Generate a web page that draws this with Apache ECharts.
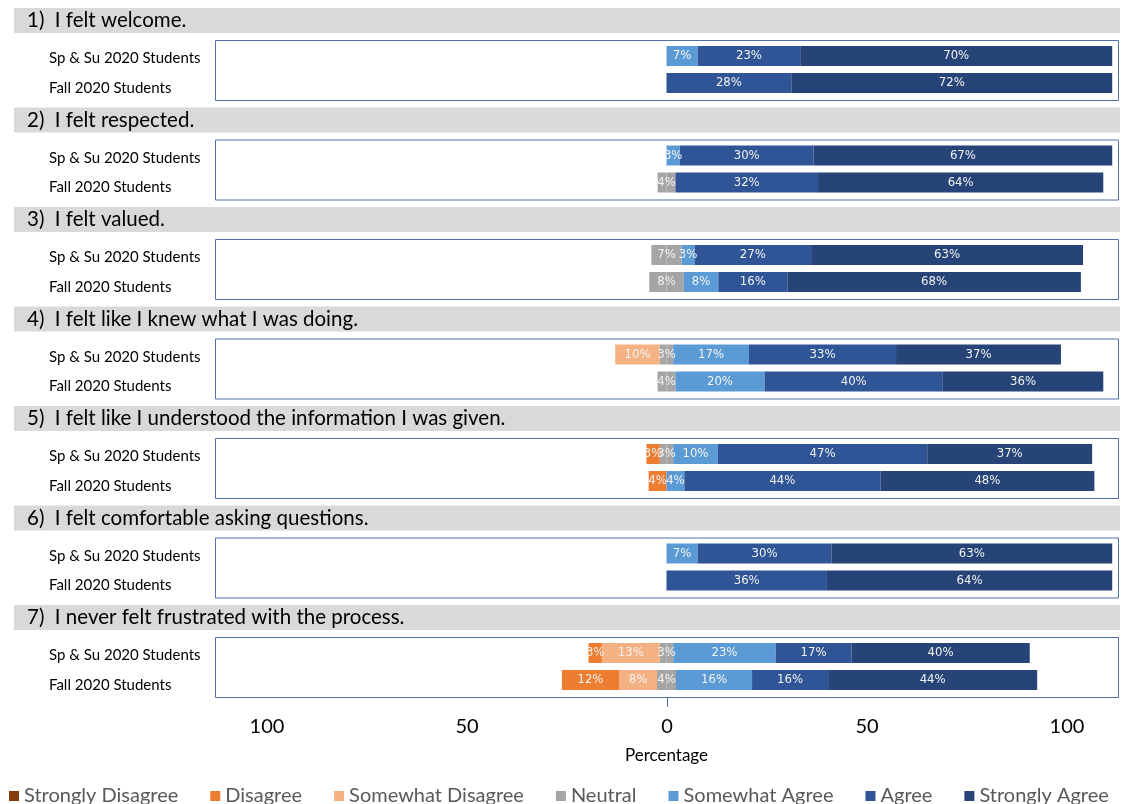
<!DOCTYPE html>
<html>
<head>
<meta charset="utf-8">
<script src="https://cdn.jsdelivr.net/npm/echarts@6/dist/echarts.min.js"></script>
<style>
  html, body { margin: 0; padding: 0; background: #fff; }
  #chart { width: 1126px; height: 804px; }
</style>
</head>
<body>
<div id="chart"></div>
<script>
// survey items
const questions = [
  "1)  I felt welcome.",
  "2)  I felt respected.",
  "3)  I felt valued.",
  "4)  I felt like I knew what I was doing.",
  "5)  I felt like I understood the information I was given.",
  "6)  I felt comfortable asking questions.",
  "7)  I never felt frustrated with the process."
];
const groups = ["Sp & Su 2020 Students", "Fall 2020 Students"];
const levels = ["Strongly Disagree", "Disagree", "Somewhat Disagree", "Neutral",
  "Somewhat Agree", "Agree", "Strongly Agree"];

// percentages per question, in the order of levels
const spSu = [
  [0, 0, 0, 0, 7, 23, 70],
  [0, 0, 0, 0, 3, 30, 67],
  [0, 0, 0, 7, 3, 27, 63],
  [0, 0, 10, 3, 17, 33, 37],
  [0, 3, 0, 3, 10, 47, 37],
  [0, 0, 0, 0, 7, 30, 63],
  [0, 3, 13, 3, 23, 17, 40]
];
const fall = [
  [0, 0, 0, 0, 0, 28, 72],
  [0, 0, 0, 4, 0, 32, 64],
  [0, 0, 0, 8, 8, 16, 68],
  [0, 0, 0, 4, 20, 40, 36],
  [0, 4, 0, 0, 4, 44, 48],
  [0, 0, 0, 0, 0, 36, 64],
  [0, 12, 8, 4, 16, 16, 44]
];
const tickLabels = [-100, -50, 0, 50, 100];

// each row in the original was scaled on its own (half range of the x axis)
const axisHalfRange = [
  [101.3, 101.3], [101.3, 101.3], [104.6, 104.6], [101.3, 101.3],
  [101.3, 101.3], [101.3, 101.3], [101.3, 95]
];

const colors = ["#843C0C", "#ED7D31", "#F4B183", "#A5A5A5", "#5B9BD5", "#2F5597", "#264478"];
const font = "Lato, 'Noto Sans', sans-serif";
const barFont = "'Liberation Sans Narrow', 'DejaVu Sans Condensed', 'Roboto Condensed', sans-serif";

const chart = echarts.init(document.getElementById("chart"));

const grid = [], xAxis = [], yAxis = [], series = [], graphic = [];
const left = 215, width = 903;

questions.forEach((q, qi) => {
  const top = 40 + qi * 99.5;
  graphic.push({
    type: "rect", z: 0, silent: true,
    shape: { x: 14, y: top - 32, width: 1106, height: 25 },
    style: { fill: "#D9D9D9" }
  });
  graphic.push({
    type: "text", z: 1, silent: true,
    x: 27, y: top - 19.5,
    style: { text: q, font: "20.5px " + font, fill: "#000", verticalAlign: "middle" }
  });
  graphic.push({
    type: "rect", z: 0, silent: true,
    shape: { x: left + 0.5, y: top + 0.5, width: width, height: 60 },
    style: { fill: null, stroke: "#4F6FA8", lineWidth: 1 }
  });

  [spSu[qi], fall[qi]].forEach((vals, g) => {
    const k = grid.length;
    const R = axisHalfRange[qi][g];
    grid.push({ left: left, width: width, top: top + (g === 0 ? 5 : 32), height: 22 });
    xAxis.push({ gridIndex: k, type: "value", min: -R, max: R, show: false });
    yAxis.push({
      gridIndex: k, type: "category", data: [groups[g]],
      axisLine: { show: false }, axisTick: { show: false },
      axisLabel: {
        align: "left", margin: 166,
        formatter: v => "{a|" + v + "}",
        rich: {
          a: {
            fontSize: 15, color: "#000", fontFamily: font,
            padding: [g === 0 ? 5 : 10, 0, 0, 0]
          }
        }
      }
    });

    const pieces = [
      // negative side, from zero outwards
      { lv: 3, v: -vals[3] / 2, lab: false },
      { lv: 2, v: -vals[2] },
      { lv: 1, v: -vals[1] },
      { lv: 0, v: -vals[0] },
      // positive side
      { lv: 3, v: vals[3] / 2, neutral: true },
      { lv: 4, v: vals[4] },
      { lv: 5, v: vals[5] },
      { lv: 6, v: vals[6] }
    ];
    pieces.forEach(p => {
      const shown = p.lab !== false && p.v !== 0;
      const label = {
        show: shown,
        color: "#F2F2F2",
        fontSize: 13,
        fontFamily: barFont,
        formatter: () => (p.neutral ? vals[3] : Math.abs(p.v)) + "%"
      };
      if (p.neutral) {
        label.position = [0, "50%"];
        label.align = "center";
        label.verticalAlign = "middle";
      } else {
        label.position = "inside";
      }
      series.push({
        type: "bar", name: levels[p.lv],
        xAxisIndex: k, yAxisIndex: k, stack: "row" + k,
        barWidth: 20,
        data: [p.v],
        itemStyle: { color: colors[p.lv] },
        label: label,
        emphasis: { disabled: true }
      });
    });
  });
});

// shared percentage axis below the panels
const ai = grid.length;
grid.push({ left: left, width: width, top: 687, height: 10 });
xAxis.push({
  gridIndex: ai, type: "value", min: -113, max: 112.75,
  axisLine: { show: false },
  splitLine: { show: false },
  axisTick: { show: true, customValues: [0], length: 10, lineStyle: { color: "#4F6FA8" } },
  axisLabel: {
    customValues: tickLabels, margin: 20, fontSize: 20, color: "#000", fontFamily: font,
    formatter: v => Math.abs(v)
  },
  name: "Percentage", nameLocation: "middle", nameGap: 50,
  nameTextStyle: { fontSize: 17, color: "#000", fontFamily: font }
});
yAxis.push({ gridIndex: ai, type: "value", show: false });

chart.setOption({
  animation: false,
  grid: grid,
  xAxis: xAxis,
  yAxis: yAxis,
  graphic: graphic,
  legend: {
    data: levels,
    left: 4, top: 781,
    icon: "rect", itemWidth: 10, itemHeight: 10, itemGap: 32,
    selectedMode: false,
    textStyle: { fontSize: 20, color: "#595959", fontFamily: font }
  },
  color: colors,
  series: series
});
</script>
</body>
</html>
